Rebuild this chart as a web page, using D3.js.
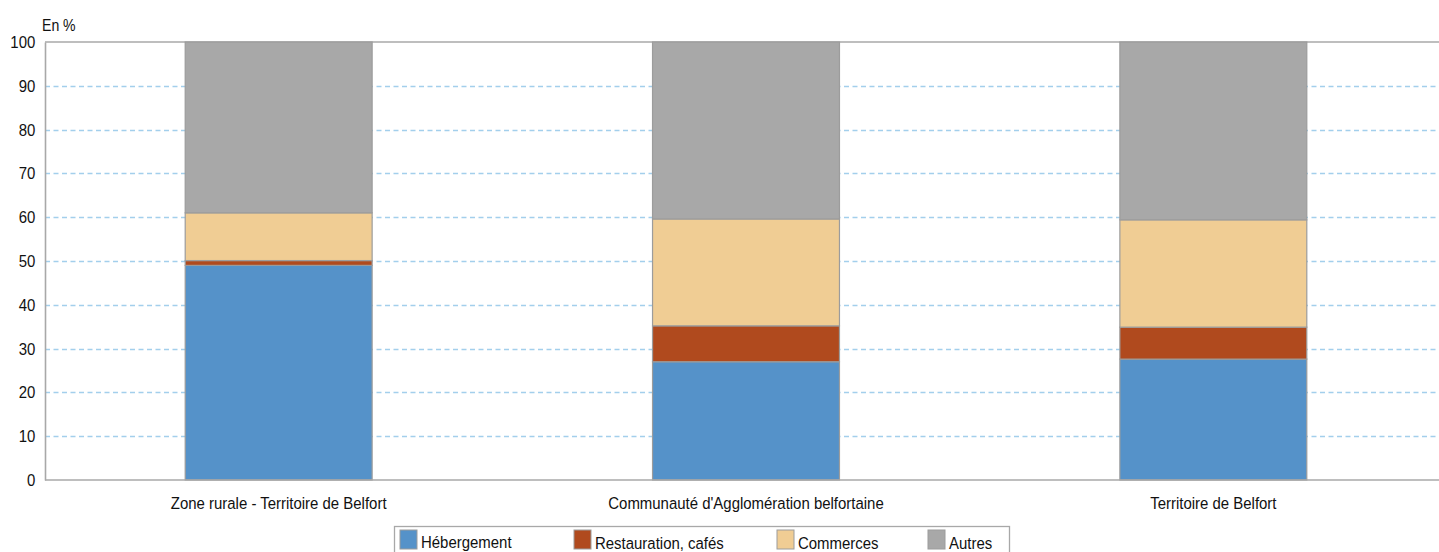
<!DOCTYPE html>
<html><head><meta charset="utf-8">
<script src="https://cdn.jsdelivr.net/npm/d3@7"></script>
<style>
body{margin:0;background:#fff;}
text{font-family:"Liberation Sans",Arial,Helvetica,sans-serif;fill:#111;}
</style></head>
<body><svg id="c" width="1439" height="552"></svg>
<script>
const categories = ["Zone rurale - Territoire de Belfort","Communauté d'Agglomération belfortaine","Territoire de Belfort"];
const seriesNames = ["Hébergement","Restauration, cafés","Commerces","Autres"];
const hebergement = [49.0, 27.0, 27.6];
const restauration = [1.1, 8.2, 7.3];
const commerces = [10.9, 24.4, 24.5];
const autres = [39.0, 40.4, 40.6];
const yTicks = [0,10,20,30,40,50,60,70,80,90,100];
const colors = ["#5592c9","#b04a1e","#f0cd94","#a8a8a8"];

(function(){
const svg = d3.select("#c");
const SX = 0.88;
const mLeft = 45, mRight = 1447, mTop = 42, mBottom = 480;
const x = d3.scaleBand().domain(categories).range([mLeft,mRight]).paddingInner(0.6).paddingOuter(0.3);
const y = d3.scaleLinear().domain([0,100]).range([mBottom,mTop]);

const rows = categories.map((c,i)=>({cat:c, "Hébergement":hebergement[i], "Restauration, cafés":restauration[i], "Commerces":commerces[i], "Autres":autres[i]}));
const stack = d3.stack().keys(seriesNames)(rows);

svg.append("g").selectAll("line").data(yTicks.filter(d=>d>0 && d<100)).join("line")
  .attr("x1",mLeft).attr("x2",1439).attr("y1",d=>Math.round(y(d))+0.5).attr("y2",d=>Math.round(y(d))+0.5)
  .attr("stroke","#a3cfec").attr("stroke-width",1.3).attr("stroke-dasharray","5,3.5");
svg.append("line").attr("x1",mLeft).attr("x2",1439).attr("y1",y(100)).attr("y2",y(100)).attr("stroke","#a8a8a8").attr("stroke-width",1.6);

svg.append("g").selectAll("g").data(stack).join("g").attr("fill",(d,i)=>colors[i])
  .selectAll("rect").data(d=>d).join("rect")
  .attr("x",d=>x(d.data.cat)).attr("width",x.bandwidth())
  .attr("y",d=>y(d[1])).attr("height",d=>y(d[0])-y(d[1]))
  .attr("stroke","#9c9c9c").attr("stroke-width",1.2);

const ya = svg.append("g").attr("transform",`translate(${mLeft},0)`).call(d3.axisLeft(y).tickValues(yTicks).tickSize(0).tickPadding(11));
ya.select(".domain").attr("stroke","#a8a8a8").attr("stroke-width",1.6);
ya.selectAll("text").attr("font-size",17).attr("font-family",null).attr("transform",`scale(${SX},1)`);
const xa = svg.append("g").attr("transform",`translate(0,${mBottom})`).call(d3.axisBottom(x).tickSize(0).tickPadding(17));
xa.select(".domain").attr("stroke","#a8a8a8").attr("stroke-width",1.6).attr("d",`M${mLeft},0H1439`);
xa.selectAll("text").attr("font-size",17).attr("font-family",null).attr("transform",`scale(${SX},1)`);

svg.append("g").attr("transform","translate(42,31)")
  .append("text").attr("font-size",16).attr("transform",`scale(${SX},1)`).text("En %");

const lg = svg.append("g");
lg.append("rect").attr("x",394.5).attr("y",526.5).attr("width",615).attr("height",40).attr("fill","#fff").attr("stroke","#a8a8a8").attr("stroke-width",1.3);
const legX = [400,574,777,928];
const legY = [548,549,549,549];
seriesNames.forEach((s,i)=>{
  lg.append("rect").attr("x",legX[i]).attr("y",530).attr("width",17).attr("height",19).attr("fill",colors[i]).attr("stroke","#9c9c9c").attr("stroke-width",1);
  lg.append("g").attr("transform",`translate(${legX[i]+21},${legY[i]})`)
    .append("text").attr("font-size",17).attr("transform",`scale(${SX},1)`).text(s);
});
})();
</script></body></html>
